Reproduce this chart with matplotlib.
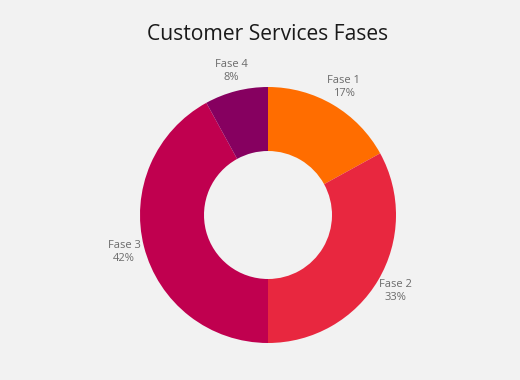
import matplotlib
matplotlib.use("Agg")
import matplotlib.pyplot as plt

categories = ["Fase 1", "Fase 2", "Fase 3", "Fase 4"]
values = [17, 33, 42, 8]
colors = ["#FF6D00", "#E8273F", "#C0004F", "#860060"]

plt.rcParams['font.family'] = ['Open Sans', 'DejaVu Sans']

fig = plt.figure(figsize=(5.2, 3.8), dpi=100)
fig.patch.set_facecolor("#F2F2F2")

W, H = 520, 380
cx, cy = 268, 380 - 215
R = 128
half = 1.5 * R
ax = fig.add_axes([(cx - half) / W, (cy - half) / H, 2 * half / W, 2 * half / H])
ax.set_facecolor("#F2F2F2")

labels = [f"{c}\n{v}%" for c, v in zip(categories, values)]
wedges, texts = ax.pie(values, colors=colors, startangle=90, counterclock=False,
                       radius=1.0, labels=labels, labeldistance=1.16,
                       wedgeprops=dict(width=0.5, linewidth=0),
                       textprops=dict(fontsize=8, color="#6B6B6B"))
for t in texts:
    t.set_ha("center")
    t.set_va("center")
    t.set_linespacing(1.25)
ax.set_xlim(-1.5, 1.5)
ax.set_ylim(-1.5, 1.5)
ax.set_aspect("auto")
ax.axis("off")

fig.text(cx / W, 1 - 34 / H, "Customer Services Fases", ha="center", va="center",
         fontsize=15.2, color="#1A1A1A")

fig.savefig("out.png", dpi=100, facecolor=fig.get_facecolor())
